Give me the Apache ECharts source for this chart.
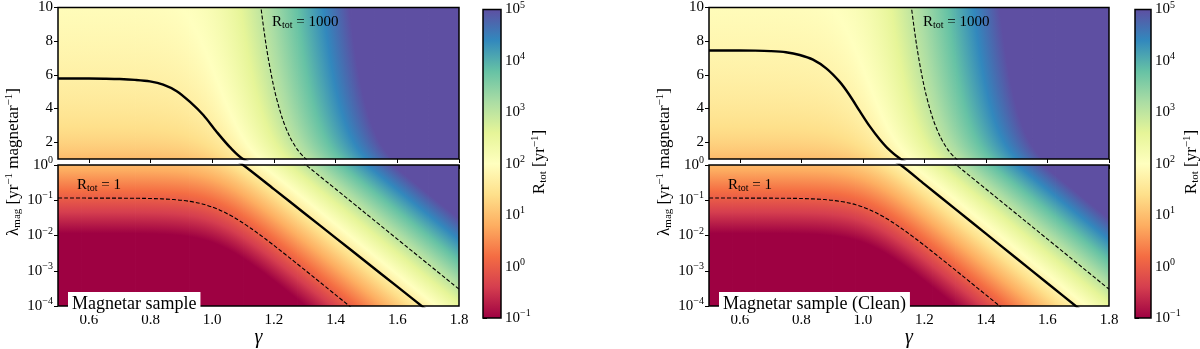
<!DOCTYPE html>
<html>
<head>
<meta charset="utf-8">
<script src="https://cdn.jsdelivr.net/npm/echarts@6/dist/echarts.min.js"></script>
<style>
  html, body { margin: 0; padding: 0; background: #fff; }
  #chart { width: 1200px; height: 349px; }
</style>
</head>
<body>
<div id="chart"></div>
<script>
// gamma grid and log10 R_tot at lambda = 1 (R scales with lambda)
const gammaVals = [0.5, 0.525, 0.55, 0.575, 0.6, 0.625, 0.65, 0.675, 0.7, 0.725, 0.75, 0.775, 0.8,
    0.825, 0.85, 0.875, 0.9, 0.925, 0.95, 0.975, 1.0, 1.025, 1.05, 1.075, 1.1, 1.125, 1.15, 1.175,
    1.2, 1.225, 1.25, 1.275, 1.3, 1.325, 1.35, 1.375, 1.4, 1.425, 1.45, 1.475, 1.5, 1.525, 1.55,
    1.575, 1.6, 1.625, 1.65, 1.675, 1.7, 1.725, 1.75, 1.775, 1.8];
const logRateAtUnit = [0.937, 0.937, 0.937, 0.937, 0.938, 0.938, 0.938, 0.939, 0.940, 0.941, 0.943,
    0.946, 0.950, 0.957, 0.966, 0.980, 1.000, 1.029, 1.068, 1.122, 1.192, 1.280, 1.386, 1.508, 1.645,
    1.793, 1.949, 2.112, 2.280, 2.451, 2.624, 2.799, 2.974, 3.150, 3.327, 3.504, 3.681, 3.858, 4.036,
    4.213, 4.390, 4.568, 4.745, 4.923, 5.100, 5.278, 5.455, 5.633, 5.810, 5.988, 6.165, 6.343, 6.520];

// thick curves (observed rate), left and right panel
const obsGammaLeft = [0.5, 0.6, 0.65, 0.7, 0.75, 0.798, 0.841, 0.885, 0.928, 0.971, 1.014, 1.058,
    1.1, 1.2, 1.3, 1.4, 1.5, 1.6, 1.7, 1.8];
const obsLambdaLeft = [5.78, 5.78, 5.77, 5.75, 5.70, 5.61, 5.42, 5.03, 4.39, 3.61, 2.62, 1.69,
    1.0, 0.207, 0.0422, 0.0086, 0.00175, 3.56e-4, 7.2e-5, 1.5e-5];
const obsGammaRight = [0.5, 0.6, 0.65, 0.7, 0.75, 0.795, 0.838, 0.882, 0.925, 0.957, 0.99, 1.022,
    1.055, 1.087, 1.123, 1.2, 1.3, 1.4, 1.5, 1.6, 1.7, 1.8];
const obsLambdaRight = [7.45, 7.45, 7.44, 7.41, 7.34, 7.18, 6.90, 6.37, 5.58, 4.79, 3.84, 2.95,
    2.16, 1.52, 1.0, 0.288, 0.057, 0.0113, 0.00224, 4.43e-4, 8.8e-5, 1.74e-5];

const contourLevels = [1, 1000];
const gammaTicks = [0.6, 0.8, 1.0, 1.2, 1.4, 1.6, 1.8];
const linTicks = [2, 4, 6, 8, 10];
const decadeTicks = [-4, -3, -2, -1, 0];
const cbarTicks = [-1, 0, 1, 2, 3, 4, 5];
const spectral = ['#9e0142', '#d53e4f', '#f46d43', '#fdae61', '#fee08b', '#ffffbf',
    '#e6f598', '#abdda4', '#66c2a5', '#3288bd', '#5e4fa2'];

const FONT = "'Liberation Serif', 'Times New Roman', serif";
const stops = spectral.map((c, i) => ({ offset: i / (spectral.length - 1), color: c }));

const rich = {
    b: { fontFamily: FONT, fontSize: 15, color: '#000' },
    p: { fontFamily: FONT, fontSize: 10, color: '#000', padding: [0, 0, 9, 0] },
    s: { fontFamily: FONT, fontSize: 10, color: '#000', padding: [6, 0, 0, 0] }
};
const pow10 = e => '{b|10}{p|' + String(e).replace('-', '\u2212') + '}';

// rows of the top (linear) panel, only used to split the drawing
const topRows = [];
for (let v = 1; v <= 10.001; v += 0.25) topRows.push(v);

const cells = function (rows) {
    let out = [];
    for (let i = 0; i < gammaVals.length - 1; i++) {
        for (let j = 0; j < rows.length - 1; j++) {
            out.push([gammaVals[i], gammaVals[i + 1], logRateAtUnit[i], logRateAtUnit[i + 1], rows[j], rows[j + 1]]);
        }
    }
    return out;
};

// each cell: colour = cmap(log10(lambda) + g(gamma)), linear inside the cell -> one linear gradient
const makeCellRenderer = function (yIsLog10) {
    const toLog = v => (yIsLog10 ? v : Math.log10(v));
    return function (params, api) {
        const x0 = api.value(0), x1 = api.value(1), g0 = api.value(2), g1 = api.value(3);
        const lo = api.value(4), hi = api.value(5);
        const a = api.coord([x0, hi]), b = api.coord([x1, lo]);
        const w = b[0] - a[0], h = b[1] - a[1];
        const kx = (g1 - g0) / w;
        const ky = (toLog(lo) - toLog(hi)) / h;
        const s0 = g0 + toLog(hi);
        const n2 = kx * kx + ky * ky;
        const t0 = (-1 - s0) / n2, t1 = (5 - s0) / n2;
        const fill = new echarts.graphic.LinearGradient(
            a[0] + t0 * kx, a[1] + t0 * ky, a[0] + t1 * kx, a[1] + t1 * ky, stops, true);
        return {
            type: 'rect',
            shape: { x: a[0], y: a[1], width: w + 0.8, height: h + 0.8 },
            style: { fill: fill }
        };
    };
};

const renderBar = function (params, api) {
    const a = api.coord([api.value(0), api.value(3)]);
    const b = api.coord([api.value(1), api.value(2)]);
    return {
        type: 'rect',
        shape: { x: a[0], y: a[1], width: b[0] - a[0], height: b[1] - a[1] },
        style: { fill: new echarts.graphic.LinearGradient(0, 1, 0, 0, stops) }
    };
};

const frame = { show: true, z: 10, borderColor: '#000', borderWidth: 1.5, backgroundColor: 'transparent' };
const tickStyle = { length: 4, lineStyle: { color: '#000', width: 1 } };
const labelStyle = { fontFamily: FONT, fontSize: 15, color: '#000' };
const evenTenth = v => (Math.round(v * 10) % 2 === 0 ? v.toFixed(1) : '');

let grids = [], xAxes = [], yAxes = [], series = [];

const addPanel = function (left, width, cbLeft, cbWidth, obsG, obsL) {
    const gi = grids.length;
    grids.push(Object.assign({ left: left, top: 7, width: width, height: 152 }, frame));
    grids.push(Object.assign({ left: left, top: 165, width: width, height: 152 }, frame));
    grids.push(Object.assign({ left: cbLeft, top: 7, width: cbWidth, height: 311 }, frame));

    xAxes.push({
        gridIndex: gi, type: 'value', min: 0.5, max: 1.8, interval: 0.1,
        axisLine: { show: false }, splitLine: { show: false },
        axisTick: Object.assign({ customValues: gammaTicks }, tickStyle),
        axisLabel: { show: false }
    });
    xAxes.push({
        gridIndex: gi + 1, type: 'value', min: 0.5, max: 1.8, interval: 0.1,
        axisLine: { show: false }, splitLine: { show: false },
        axisTick: Object.assign({ customValues: gammaTicks }, tickStyle),
        axisLabel: Object.assign({ margin: 6, formatter: evenTenth }, labelStyle),
        name: '\u03b3', nameLocation: 'middle', nameGap: 20,
        nameTextStyle: { fontFamily: FONT, fontSize: 20, fontStyle: 'italic', color: '#000' }
    });
    xAxes.push({ gridIndex: gi + 2, type: 'value', min: 0, max: 1, show: false });

    yAxes.push({
        gridIndex: gi, type: 'value', min: 1, max: 10,
        axisLine: { show: false }, splitLine: { show: false },
        axisTick: Object.assign({ customValues: linTicks }, tickStyle),
        axisLabel: Object.assign({ customValues: linTicks, margin: 5 }, labelStyle)
    });
    // lower panel: value axis in log10(lambda)
    yAxes.push({
        gridIndex: gi + 1, type: 'value', min: decadeTicks[0], max: decadeTicks[decadeTicks.length - 1], interval: 1,
        axisLine: { show: false }, splitLine: { show: false },
        axisTick: tickStyle,
        axisLabel: Object.assign({ margin: 5, rich: rich, formatter: v => pow10(v) }, labelStyle)
    });
    yAxes.push({
        gridIndex: gi + 2, type: 'value', min: -1, max: 5, interval: 1, position: 'right',
        axisLine: { show: false }, splitLine: { show: false },
        axisTick: tickStyle,
        axisLabel: Object.assign({ margin: 4, rich: rich, formatter: v => pow10(v) }, labelStyle)
    });

    // heat maps
    series.push({
        type: 'custom', xAxisIndex: gi, yAxisIndex: gi, clip: true, silent: true,
        encode: { x: [0, 1], y: [4, 5] }, data: cells(topRows), renderItem: makeCellRenderer(false)
    });
    series.push({
        type: 'custom', xAxisIndex: gi + 1, yAxisIndex: gi + 1, clip: true, silent: true,
        encode: { x: [0, 1], y: [4, 5] }, data: cells([-4, 0]), renderItem: makeCellRenderer(true)
    });
    // colour bar
    series.push({
        type: 'custom', xAxisIndex: gi + 2, yAxisIndex: gi + 2, silent: true,
        encode: { x: [0, 1], y: [2, 3] }, data: [[0, 1, cbarTicks[0], cbarTicks[cbarTicks.length - 1]]],
        renderItem: renderBar
    });

    for (let k = 0; k < 2; k++) {
        const ax = gi + k;
        const yOf = k === 0 ? (v => v) : (v => Math.log10(v));
        contourLevels.forEach(level => {
            series.push({
                type: 'line', xAxisIndex: ax, yAxisIndex: ax, z: 5, silent: true,
                showSymbol: false, smooth: 0.3, clip: true,
                lineStyle: { color: '#000', width: 1.1, type: [4, 2] },
                data: gammaVals.map((g, i) => [g, yOf(level / Math.pow(10, logRateAtUnit[i]))])
            });
        });
        series.push({
            type: 'line', xAxisIndex: ax, yAxisIndex: ax, z: 6, silent: true,
            showSymbol: false, smooth: 0.3, clip: true,
            lineStyle: { color: '#000', width: 2.4 },
            data: obsG.map((g, i) => [g, yOf(obsL[i])])
        });
    }
};

addPanel(58, 401, 483, 18, obsGammaLeft, obsLambdaLeft);
addPanel(709, 400, 1135, 16, obsGammaRight, obsLambdaRight);

const bigRich = {
    b: { fontFamily: FONT, fontSize: 17, color: '#000' },
    p: { fontFamily: FONT, fontSize: 11, color: '#000', padding: [0, 0, 10, 0] },
    s: { fontFamily: FONT, fontSize: 11, color: '#000', padding: [7, 0, 0, 0] }
};
const ylabel = '{b|\u03bb}{s|mag}{b| [yr}{p|\u22121}{b| magnetar}{p|\u22121}{b|]}';
const cblabel = '{b|R}{s|tot}{b| [yr}{p|\u22121}{b|]}';

const textEl = function (x, y, text, extra) {
    return {
        type: 'text', x: x, y: y, z: 20,
        style: Object.assign({ text: text, rich: rich, fontFamily: FONT, fontSize: 15, fill: '#000' }, extra || {})
    };
};

let graphics = [];
[[0, 0], [651, 1]].forEach(([dx, side]) => {
    graphics.push(Object.assign(textEl(14 + dx, 162, ylabel, { rich: bigRich, align: 'center', verticalAlign: 'middle' }), { rotation: Math.PI / 2 }));
    graphics.push(Object.assign(textEl(side ? 1192 : 540, 162, cblabel, { rich: bigRich, align: 'center', verticalAlign: 'middle' }), { rotation: Math.PI / 2 }));
    graphics.push(textEl(272 + dx, 22, '{b|R}{s|tot}{b| = 1000}', { verticalAlign: 'middle' }));
    graphics.push(textEl(77 + dx, 185, '{b|R}{s|tot}{b| = 1}', { verticalAlign: 'middle' }));
    graphics.push({
        type: 'text', x: 68 + dx, y: 292, z: 20,
        style: {
            text: side ? 'Magnetar sample (Clean)' : 'Magnetar sample',
            fontFamily: FONT, fontSize: 18, fill: '#000',
            backgroundColor: '#fff', padding: [3, 4, 2, 4]
        }
    });
});

const chart = echarts.init(document.getElementById('chart'));
chart.setOption({
    animation: false,
    grid: grids,
    xAxis: xAxes,
    yAxis: yAxes,
    series: series,
    graphic: graphics
});
</script>
</body>
</html>
